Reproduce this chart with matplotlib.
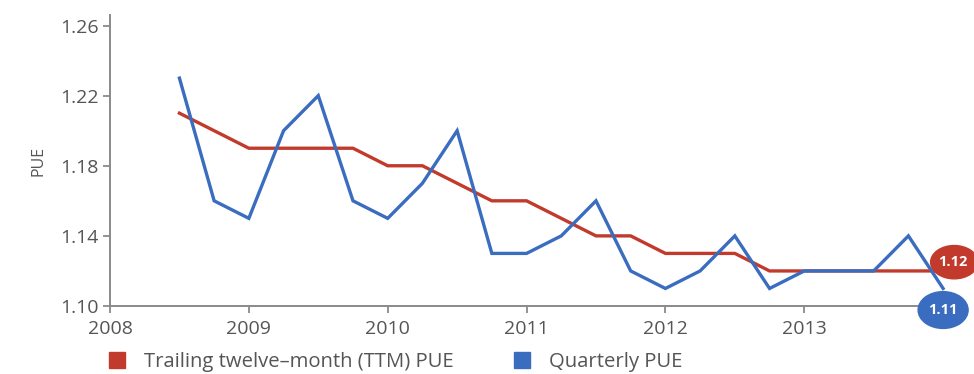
import matplotlib.pyplot as plt
from matplotlib.patches import Ellipse, Patch

plt.rcParams['font.family'] = ['Open Sans', 'DejaVu Sans']

# quarters from mid 2008 to end of 2013
quarters = [2008.5, 2008.75, 2009.0, 2009.25, 2009.5, 2009.75, 2010.0, 2010.25,
            2010.5, 2010.75, 2011.0, 2011.25, 2011.5, 2011.75, 2012.0, 2012.25,
            2012.5, 2012.75, 2013.0, 2013.25, 2013.5, 2013.75, 2014.0]
ttm_pue = [1.21, 1.20, 1.19, 1.19, 1.19, 1.19, 1.18, 1.18,
           1.17, 1.16, 1.16, 1.15, 1.14, 1.14, 1.13, 1.13,
           1.13, 1.12, 1.12, 1.12, 1.12, 1.12, 1.12]
quarterly_pue = [1.23, 1.16, 1.15, 1.20, 1.22, 1.16, 1.15, 1.17,
                 1.20, 1.13, 1.13, 1.14, 1.16, 1.12, 1.11, 1.12,
                 1.14, 1.11, 1.12, 1.12, 1.12, 1.14, 1.11]
years = [2008, 2009, 2010, 2011, 2012, 2013]
yticks = [1.10, 1.14, 1.18, 1.22, 1.26]

red = '#c23a2c'
blue = '#3a6cc0'
grey = '#555555'

fig = plt.figure(figsize=(9.74, 3.74), dpi=100)
ax = fig.add_axes([110 / 974, 1 - 306 / 374, 847 / 974, 291 / 374])

ax.plot(quarters, ttm_pue, color=red, lw=2.4, solid_joinstyle='miter', zorder=3)
ax.plot(quarters, quarterly_pue, color=blue, lw=2.4, solid_joinstyle='miter', zorder=4)

ax.set_xlim(2008, 2014.1)
ax.set_ylim(1.10, 1.266)
ax.set_xticks(years)
ax.set_yticks(yticks)
ax.set_yticklabels([f'{v:.2f}' for v in yticks])

for s in ['top', 'right']:
    ax.spines[s].set_visible(False)
for s in ['left', 'bottom']:
    ax.spines[s].set_color('#8a8a8a')
    ax.spines[s].set_linewidth(1.4)
ax.tick_params(colors='#8a8a8a', labelcolor=grey, labelsize=14, length=5, width=1.3)
ax.tick_params(axis='x', pad=5)
ax.tick_params(axis='y', pad=3)
ax.set_ylabel('PUE', color=grey, fontsize=11.5, labelpad=10)

# end-of-series value badges
ax.add_patch(Ellipse((2014.08, ttm_pue[-1] + 0.005), 0.34, 0.019, color=red,
                     clip_on=False, zorder=5))
ax.text(2014.07, ttm_pue[-1] + 0.005, f'{ttm_pue[-1]:.2f}', color='white',
        fontsize=10.5, fontweight='bold', ha='center', va='center', zorder=6, clip_on=False)
ax.add_patch(Ellipse((2014.0, quarterly_pue[-1] - 0.0123), 0.36, 0.021, color=blue,
                     clip_on=False, zorder=7))
ax.text(2014.0, quarterly_pue[-1] - 0.0123, f'{quarterly_pue[-1]:.2f}', color='white',
        fontsize=10.5, fontweight='bold', ha='center', va='center', zorder=8, clip_on=False)

handles = [Patch(color=red), Patch(color=blue)]
labels = ['Trailing twelve–month (TTM) PUE', 'Quarterly PUE']
leg = fig.legend(handles, labels, loc='center left', bbox_to_anchor=(95 / 974, 1 - 362 / 374),
                 ncol=2, frameon=False, fontsize=14.6, handlelength=0.8, handleheight=0.8,
                 handletextpad=0.9, columnspacing=3.0, borderpad=0.2)
for t in leg.get_texts():
    t.set_color(grey)

fig.savefig('out.png', dpi=100)
